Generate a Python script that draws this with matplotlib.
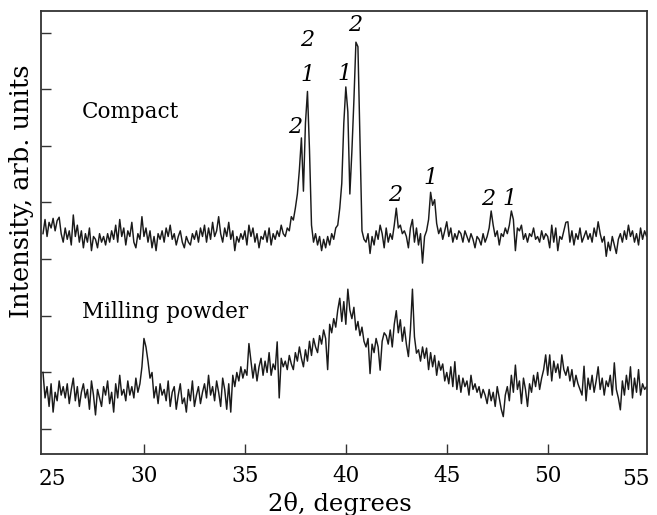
import numpy as np
import matplotlib
matplotlib.use("Agg")
import matplotlib.pyplot as plt

# 2-theta grid, 0.1 degree steps from 25.0 to 54.9
two_theta = np.round(np.arange(250, 550) * 0.1, 1)

# Compact pattern (arb. units)
compact = [
    3.45, 3.70, 3.40, 3.65, 3.55, 3.72, 3.50, 3.68, 3.74, 3.45,
    3.30, 3.55, 3.35, 3.50, 3.25, 3.78, 3.40, 3.60, 3.30, 3.50,
    3.20, 3.45, 3.30, 3.55, 3.15, 3.40, 3.35, 3.20, 3.45, 3.30,
    3.40, 3.25, 3.45, 3.30, 3.50, 3.35, 3.60, 3.30, 3.70, 3.40,
    3.55, 3.25, 3.50, 3.40, 3.65, 3.30, 3.20, 3.45, 3.35, 3.75,
    3.40, 3.55, 3.30, 3.50, 3.20, 3.40, 3.15, 3.45, 3.35, 3.50,
    3.30, 3.55, 3.40, 3.60, 3.35, 3.45, 3.25, 3.40, 3.50, 3.30,
    3.20, 3.40, 3.30, 3.25, 3.45, 3.35, 3.50, 3.30, 3.55, 3.40,
    3.60, 3.30, 3.55, 3.35, 3.65, 3.40, 3.50, 3.75, 3.45, 3.30,
    3.55, 3.40, 3.65, 3.35, 3.50, 3.15, 3.40, 3.30, 3.45, 3.35,
    3.50, 3.25, 3.60, 3.40, 3.55, 3.30, 3.45, 3.20, 3.40, 3.35,
    3.50, 3.30, 3.55, 3.25, 3.45, 3.35, 3.50, 3.40, 3.60, 3.45,
    3.40, 3.55, 3.50, 3.75, 3.69, 3.90, 4.15, 4.58, 5.14, 4.20,
    5.40, 5.96, 4.93, 3.60, 3.30, 3.45, 3.25, 3.40, 3.15, 3.35,
    3.20, 3.40, 3.25, 3.45, 3.35, 3.55, 3.60, 3.90, 4.34, 5.40,
    6.04, 5.60, 4.15, 4.90, 5.80, 6.83, 6.75, 5.10, 3.50, 3.35,
    3.30, 3.45, 3.10, 3.40, 3.25, 3.50, 3.35, 3.60, 3.45, 3.20,
    3.55, 3.30, 3.45, 3.35, 3.60, 3.90, 3.55, 3.60, 3.45, 3.50,
    3.40, 3.20, 3.55, 3.70, 3.30, 3.55, 3.25, 3.45, 2.93, 3.40,
    3.50, 3.70, 4.18, 3.95, 4.05, 3.63, 3.45, 3.55, 3.35, 3.50,
    3.66, 3.40, 3.55, 3.30, 3.45, 3.35, 3.50, 3.45, 3.30, 3.50,
    3.40, 3.30, 3.45, 3.35, 3.20, 3.40, 3.35, 3.25, 3.45, 3.30,
    3.40, 3.55, 3.85, 3.60, 3.40, 3.50, 3.25, 3.45, 3.40, 3.55,
    3.45, 3.60, 3.85, 3.70, 3.15, 3.55, 3.50, 3.60, 3.35, 3.45,
    3.30, 3.45, 3.40, 3.55, 3.35, 3.40, 3.30, 3.50, 3.35, 3.45,
    3.40, 3.20, 3.60, 3.30, 3.55, 3.15, 3.40, 3.35, 3.50, 3.65,
    3.66, 3.30, 3.50, 3.25, 3.45, 3.35, 3.55, 3.30, 3.40, 3.50,
    3.35, 3.45, 3.30, 3.55, 3.40, 3.66, 3.45, 3.30, 3.40, 3.05,
    3.30, 3.15, 3.40, 3.25, 3.10, 3.35, 3.45, 3.30, 3.50, 3.35,
    3.60, 3.40, 3.50, 3.30, 3.45, 3.25, 3.55, 3.35, 3.50, 3.40,
]

# Milling powder pattern
milling = [
    1.00, 0.55, 0.75, 0.40, 0.80, 0.30, 0.65, 0.50, 0.85, 0.60,
    0.75, 0.55, 0.80, 0.45, 0.70, 0.90, 0.50, 0.75, 0.40, 0.65,
    0.80, 0.55, 0.70, 0.35, 0.85, 0.60, 0.25, 0.70, 0.55, 0.40,
    0.75, 0.60, 0.85, 0.45, 0.65, 0.30, 0.80, 0.55, 0.95, 0.60,
    0.70, 0.50, 0.85, 0.60, 0.75, 0.55, 0.90, 0.65, 0.80, 1.10,
    1.60, 1.45, 1.20, 0.90, 1.00, 0.55, 0.75, 0.45, 0.80, 0.60,
    0.70, 0.50, 0.85, 0.40, 0.65, 0.75, 0.35, 0.60, 0.80, 0.45,
    0.55, 0.30, 0.70, 0.50, 0.85, 0.40, 0.60, 0.75, 0.45, 0.65,
    0.80, 0.55, 0.95, 0.60, 0.75, 0.50, 0.85, 0.65, 0.40, 0.90,
    0.70, 0.35, 0.80, 0.30, 0.95, 0.75, 1.00, 0.85, 1.10, 0.90,
    1.05, 0.95, 1.51, 1.20, 0.90, 1.15, 0.85, 1.10, 1.25, 0.95,
    1.20, 1.00, 1.35, 0.95, 1.15, 1.05, 1.54, 0.55, 1.25, 1.10,
    1.20, 1.05, 1.30, 1.15, 1.05, 1.35, 1.20, 1.45, 1.25, 1.10,
    1.40, 1.20, 1.55, 1.30, 1.60, 1.45, 1.35, 1.65, 1.50, 1.75,
    1.60, 1.05, 1.85, 1.70, 1.95, 1.80, 2.10, 2.31, 1.90, 2.25,
    1.85, 2.47, 2.10, 1.95, 2.15, 1.75, 1.90, 1.65, 1.80, 1.55,
    1.45, 1.60, 0.98, 1.50, 1.35, 1.60, 1.45, 1.04, 1.55, 1.70,
    1.65, 1.50, 1.75, 1.45, 1.85, 2.09, 1.70, 1.93, 1.55, 1.80,
    1.50, 1.28, 1.75, 2.47, 1.63, 1.34, 1.40, 1.20, 1.45, 1.25,
    1.43, 1.05, 1.35, 1.10, 1.30, 0.95, 1.20, 1.04, 1.15, 0.85,
    1.00, 0.80, 1.10, 0.75, 1.19, 0.70, 0.95, 0.65, 0.90, 0.75,
    0.85, 0.60, 0.95, 0.70, 0.80, 0.65, 0.75, 0.55, 0.70, 0.60,
    0.45, 0.70, 0.50, 0.65, 0.40, 0.75, 0.55, 0.35, 0.22, 0.60,
    0.75, 0.50, 0.95, 0.65, 1.13, 0.70, 0.85, 0.45, 0.90, 0.70,
    0.40, 0.80, 0.65, 0.95, 0.75, 1.00, 0.70, 0.90, 1.05, 1.31,
    0.95, 1.31, 0.85, 1.20, 1.00, 1.15, 0.90, 1.31, 1.05, 0.95,
    1.10, 0.85, 1.05, 0.75, 0.95, 0.80, 0.70, 0.60, 1.11, 0.50,
    0.90, 0.70, 0.95, 0.65, 0.85, 1.10, 0.70, 0.90, 0.60, 0.85,
    0.75, 0.95, 0.60, 1.17, 0.70, 0.55, 0.34, 0.85, 0.60, 0.95,
    0.70, 1.10, 0.55, 0.90, 0.65, 1.05, 0.60, 0.80, 0.70, 0.75,
]

# Peak labels (phase number) and where they sit
peak_labels = ["2", "1", "2", "1", "2", "2", "1", "2", "1"]
peak_x = [37.49, 38.08, 38.08, 39.92, 40.46, 42.44, 44.21, 47.07, 48.11]
peak_y = [5.34, 6.25, 6.87, 6.27, 7.14, 4.13, 4.43, 4.06, 4.06]

xtick_vals = [30, 35, 40, 45, 50]

plt.rcParams["font.family"] = "DejaVu Serif"

fig = plt.figure(figsize=(6.57, 5.15), dpi=100)
ax = fig.add_axes([0.0624, 0.1184, 0.9224, 0.8602])

ax.plot(two_theta, compact, color="#1a1a1a", linewidth=1.05)
ax.plot(two_theta, milling, color="#1a1a1a", linewidth=1.05)

for lab, px, py in zip(peak_labels, peak_x, peak_y):
    ax.text(px, py, lab, fontsize=16, style="italic", ha="center", va="center")

ax.text(26.93, 5.60, "Compact", fontsize=15.5, va="center")
ax.text(26.93, 2.07, "Milling powder", fontsize=15.5, va="center")

ax.set_xlim(24.9, 54.92)
ax.set_ylim(-0.44, 7.38)

ax.set_xticks(xtick_vals)
ax.set_xticklabels([str(v) for v in xtick_vals])
ax.set_yticks(range(8))
ax.set_yticklabels([])
ax.tick_params(direction="in", length=7, width=1, colors="#333333",
               labelcolor="black", labelsize=15.5)
ax.tick_params(axis="x", pad=8)

# end labels 25 and 55 are pulled inside the frame
ax.text(0.018, -0.031, "25", transform=ax.transAxes, fontsize=15.5,
        ha="center", va="top")
ax.text(0.982, -0.031, "55", transform=ax.transAxes, fontsize=15.5,
        ha="center", va="top")

for s in ax.spines.values():
    s.set_linewidth(1.3)
    s.set_color("#333333")

ax.set_xlabel("2θ, degrees", fontsize=17.5)
ax.xaxis.set_label_coords(0.493, -0.085)
ax.set_ylabel("Intensity, arb. units", fontsize=18.5)
ax.yaxis.set_label_coords(-0.012, 0.593)

fig.savefig("out.png", dpi=100)
